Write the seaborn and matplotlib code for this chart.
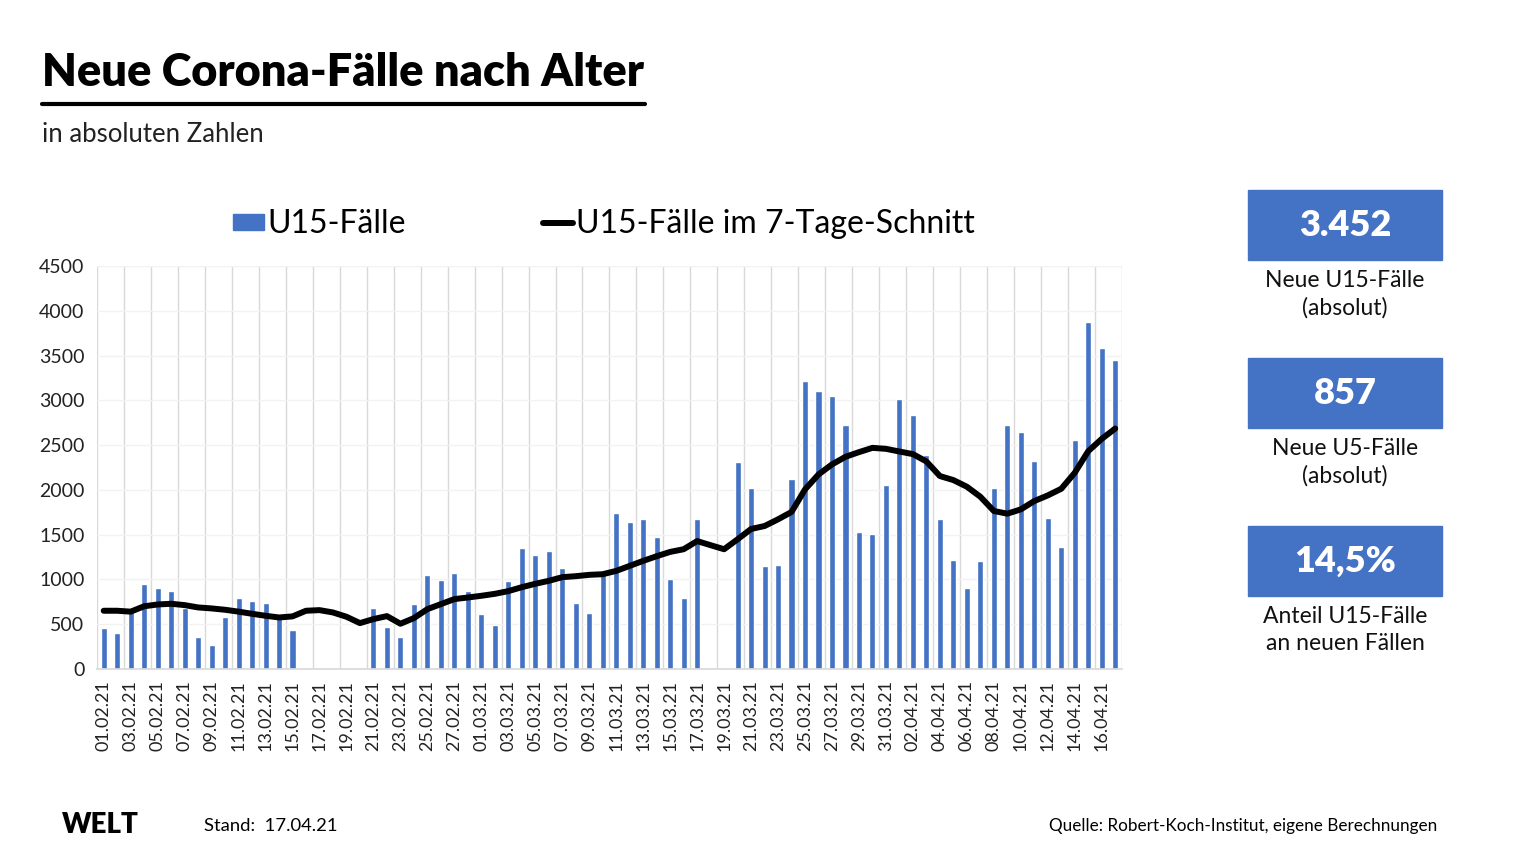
import numpy as np
import pandas as pd
import matplotlib.pyplot as plt
import seaborn as sb
from matplotlib.patches import Patch, Rectangle
from matplotlib.lines import Line2D

# Tage 01.02.21 - 17.04.21
datum = pd.date_range("2021-02-01", "2021-04-17").strftime("%d.%m.%y").tolist()

# U15-Fälle pro Tag (None = kein Wert gemeldet)
faelle = [460, 397, 640, 954, 899, 873, 680, 353, 264, 576,
          787, 757, 731, 595, 431, None, None, None, None, None,
          683, 472, 360, 728, 1051, 995, 1073, 873, 616, 494,
          984, 1352, 1277, 1318, 1129, 739, 627, 1050, 1741, 1641,
          1675, 1478, 1006, 795, 1675, None, None, 2313, 2020, 1151,
          1166, 2124, 3212, 3100, 3045, 2722, 1530, 1511, 2057, 3011,
          2833, 2387, 1675, 1218, 906, 1207, 2020, 2722, 2644, 2324,
          1686, 1363, 2555, 3873, 3579, 3452]

# 7-Tage-Schnitt
schnitt = [650, 650, 640, 700, 720, 728, 713, 687, 676, 661,
           640, 616, 594, 575, 587, 650, 657, 631, 583, 512,
           557, 590, 505, 568, 668, 724, 780, 798, 817, 839,
           869, 913, 951, 984, 1025, 1036, 1051, 1058, 1095, 1151,
           1207, 1259, 1307, 1337, 1428, 1382, 1337, 1448, 1563, 1596,
           1671, 1753, 2005, 2172, 2284, 2369, 2421, 2469, 2458, 2428,
           2399, 2317, 2154, 2109, 2035, 1923, 1764, 1734, 1782, 1875,
           1938, 2012, 2191, 2432, 2569, 2685]

yticks = list(range(0, 4501, 500))

kacheln = ["3.452", "857", "14,5%"]
kachel_text = ["Neue U15-Fälle\n(absolut)", "Neue U5-Fälle\n(absolut)",
               "Anteil U15-Fälle\nan neuen Fällen"]

BLAU = "#4472C4"

sb.set_theme(style="white")
plt.rcParams["font.family"] = ["Lato", "DejaVu Sans"]
plt.rcParams["text.color"] = "black"

df = pd.DataFrame({"datum": datum, "faelle": faelle, "schnitt": schnitt})
n = len(df)

fig = plt.figure(figsize=(15.34, 8.56), dpi=100)
ax = fig.add_axes([0.0632, 0.2185, 0.6682, 0.4708])

sb.barplot(data=df, x="datum", y="faelle", order=datum, color=BLAU,
           saturation=1, width=0.45, errorbar=None, ax=ax, zorder=2)
sb.lineplot(x=np.arange(n), y=df["schnitt"], color="black", lw=4.3,
            ax=ax, zorder=3)

ax.set_xlim(-0.5, n - 0.5)
ax.set_ylim(0, 4500)
ax.set_yticks(yticks)
ax.set_yticklabels([str(v) for v in yticks], fontsize=14, color="#222222")
ax.set_xticks(np.arange(0, n, 2))
ax.set_xticklabels(datum[::2], rotation=90, fontsize=13, color="#222222")
ax.set_xticks(np.arange(-0.5, n, 2), minor=True)
ax.tick_params(axis="both", which="both", length=0)
ax.tick_params(axis="y", pad=9)
ax.tick_params(axis="x", pad=8)
ax.grid(False)
ax.grid(axis="x", which="minor", color="#d9d9d9", lw=1)
ax.grid(axis="y", which="major", color="#f2f2f2", lw=1)
ax.set_axisbelow(True)
for s in ["top", "left", "right"]:
    ax.spines[s].set_visible(False)
ax.spines["bottom"].set_color("#d9d9d9")
ax.set_xlabel("")
ax.set_ylabel("")

handles = [Patch(color=BLAU), Line2D([0], [0], color="black", lw=4.3)]
fig.legend(handles, ["U15-Fälle", "U15-Fälle im 7-Tage-Schnitt"],
           loc="center", bbox_to_anchor=(0.394, 0.738), ncol=2, frameon=False,
           fontsize=23, handlelength=0.95, handleheight=0.42,
           handletextpad=0.1, columnspacing=4.3)

# Titel
fig.text(42 / 1534, 1 - 73 / 856, "Neue Corona-Fälle nach Alter",
         fontsize=32.5, fontweight="heavy", va="center", ha="left")
fig.add_artist(Line2D([42 / 1534, 645 / 1534], [1 - 104 / 856] * 2,
                      color="black", lw=3, transform=fig.transFigure))
fig.text(42 / 1534, 1 - 135 / 856, "in absoluten Zahlen", fontsize=18.5,
         va="center", ha="left", color="#222222")

# Kacheln rechts
for i, (wert, txt) in enumerate(zip(kacheln, kachel_text)):
    top = 190 + i * 168
    fig.add_artist(Rectangle((1248 / 1534, 1 - (top + 70) / 856),
                             194 / 1534, 70 / 856, color=BLAU,
                             transform=fig.transFigure))
    fig.text(1345 / 1534, 1 - (top + 35) / 856, wert, color="white",
             fontsize=26, fontweight="heavy", ha="center", va="center")
    fig.text(1345 / 1534, 1 - (top + 104) / 856, txt, fontsize=16.5,
             ha="center", va="center", linespacing=1.35, color="#111111")

# Fuß
fig.text(62 / 1534, 1 - 825 / 856, "WELT", fontsize=20, fontweight="heavy",
         va="center", ha="left")
fig.text(204 / 1534, 1 - 826 / 856, "Stand:  17.04.21", fontsize=13.3,
         va="center", ha="left")
fig.text(1437 / 1534, 1 - 826 / 856,
         "Quelle: Robert-Koch-Institut, eigene Berechnungen",
         fontsize=12.3, va="center", ha="right")

fig.savefig("out.png", dpi=100, facecolor="white")
